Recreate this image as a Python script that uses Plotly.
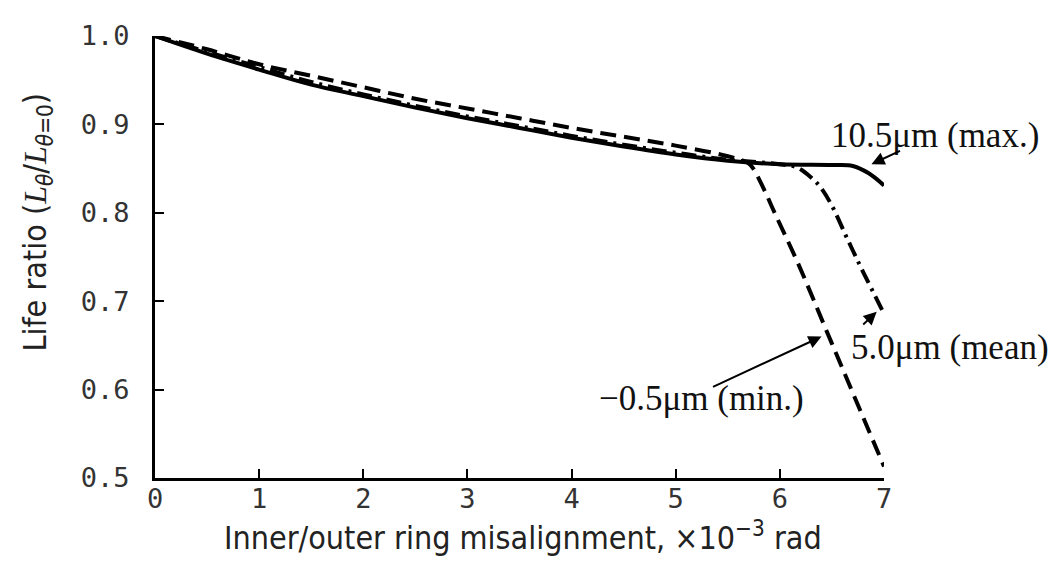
import plotly.graph_objects as go

# ---- data ----
x_max = [0, 0.5, 1, 1.5, 2, 2.5, 3, 3.5, 4, 4.5, 5, 5.5, 6, 6.5, 6.7, 6.85, 7.0]
y_max = [1.0, 0.980, 0.962, 0.945, 0.932, 0.919, 0.907, 0.896, 0.885, 0.875,
         0.866, 0.859, 0.855, 0.854, 0.853, 0.845, 0.831]

x_mean = [0, 0.5, 1, 1.5, 2, 2.5, 3, 3.5, 4, 4.5, 5, 5.5, 6.0, 6.17, 6.3, 6.39,
          6.5, 6.65, 6.8, 7.0]
y_mean = [1.0, 0.982, 0.965, 0.948, 0.934, 0.921, 0.909, 0.898, 0.887, 0.877,
          0.868, 0.860, 0.855, 0.851, 0.840, 0.829, 0.808, 0.770, 0.733, 0.686]

x_min = [0, 0.5, 1, 1.5, 2, 2.5, 3, 3.5, 4, 4.5, 5, 5.5, 5.7, 5.75, 5.85,
         5.95, 6.17, 6.5, 7.0]
y_min = [1.0, 0.985, 0.968, 0.955, 0.942, 0.929, 0.918, 0.907, 0.896, 0.886,
         0.876, 0.864, 0.856, 0.849, 0.826, 0.800, 0.744, 0.652, 0.513]

x_ticks = [0, 1, 2, 3, 4, 5, 6, 7]
y_ticks = [0.5, 0.6, 0.7, 0.8, 0.9, 1.0]
y_ticktext = ["0.5", "0.6", "0.7", "0.8", "0.9", "1.0"]

labels = ["10.5\u03bcm (max.)", "5.0\u03bcm (mean)", "\u22120.5\u03bcm (min.)"]
x_title = "Inner/outer ring misalignment, \u00d710<sup>\u22123</sup> rad"
y_title = ("Life ratio (<span style='font-family:Liberation Serif'><i>L</i></span>"
           "<sub><i>\u03b8</i></sub>/"
           "<span style='font-family:Liberation Serif'><i>L</i></span>"
           "<sub><i>\u03b8</i>=0</sub>)")

fig = go.Figure()
fig.add_trace(go.Scatter(x=x_max, y=y_max, mode="lines", name=labels[0],
                         line=dict(color="black", width=4), line_shape="spline"))
fig.add_trace(go.Scatter(x=x_mean, y=y_mean, mode="lines", name=labels[1],
                         line=dict(color="black", width=4, dash="15px,6px,3px,6px"),
                         line_shape="spline"))
fig.add_trace(go.Scatter(x=x_min, y=y_min, mode="lines", name=labels[2],
                         line=dict(color="black", width=4, dash="16px,8px"),
                         line_shape="spline"))

serif = "Liberation Serif"
ann_font = dict(family=serif, size=35, color="#111")
narrow = "Liberation Sans Narrow, Arial Narrow, DejaVu Sans Condensed, sans-serif"
title_font = dict(family=narrow, size=32, color="#222")

annotations = [
    # labels
    dict(x=6.47, y=0.887, xref="x", yref="y", text=labels[0], showarrow=False,
         xanchor="left", yanchor="middle", font=ann_font),
    dict(x=6.66, y=0.648, xref="x", yref="y", text=labels[1], showarrow=False,
         xanchor="left", yanchor="middle", font=ann_font),
    dict(x=4.24, y=0.590, xref="x", yref="y", text=labels[2], showarrow=False,
         xanchor="left", yanchor="middle", font=ann_font),
    # arrows
    dict(x=6.88, y=0.855, xref="x", yref="y", text="", showarrow=True,
         ax=30, ay=-14, arrowhead=2, arrowsize=1.3, arrowwidth=2, arrowcolor="black"),
    dict(x=6.93, y=0.688, xref="x", yref="y", text="", showarrow=True,
         ax=-15, ay=14, arrowhead=2, arrowsize=1.3, arrowwidth=2, arrowcolor="black"),
    dict(x=6.40, y=0.660, xref="x", yref="y", text="", showarrow=True,
         ax=-110, ay=51, arrowhead=2, arrowsize=1.3, arrowwidth=2, arrowcolor="black"),
    # axis titles
    dict(x=0.505, y=-0.132, xref="paper", yref="paper", text=x_title, showarrow=False,
         xanchor="center", yanchor="middle", font=title_font),
    dict(x=-0.162, y=0.58, xref="paper", yref="paper", text=y_title, showarrow=False,
         xanchor="center", yanchor="middle", textangle=-90, font=title_font),
]

tick_font = dict(family="DejaVu Sans Mono", size=27, color="#333")

fig.update_layout(
    width=1062, height=562,
    margin=dict(l=147, r=186, t=22, b=92),
    paper_bgcolor="white", plot_bgcolor="white",
    showlegend=False,
    annotations=annotations,
)
fig.update_xaxes(
    range=[0, 7], tickvals=x_ticks, ticks="inside", ticklen=9, tickwidth=2,
    tickcolor="black", showline=True, linecolor="black", linewidth=3,
    showgrid=False, zeroline=False, tickfont=tick_font, ticklabelstandoff=-5,
)
fig.update_yaxes(
    range=[0.5, 1.0], tickvals=y_ticks, ticktext=y_ticktext, ticks="inside",
    ticklen=9, tickwidth=2, tickcolor="black", showline=True, linecolor="black",
    linewidth=3, showgrid=False, zeroline=False, tickfont=tick_font,
    ticklabelstandoff=17,
)

fig.write_html("out.html")
